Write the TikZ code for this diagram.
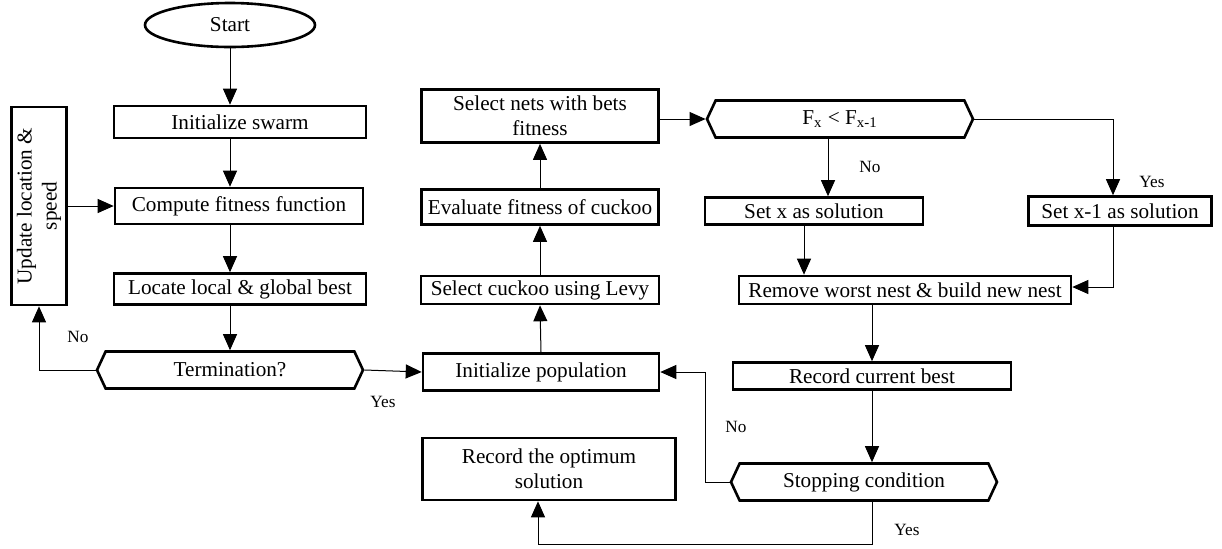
\documentclass[tikz,border=0pt]{standalone}
\usepackage{fontspec}
\setmainfont{Liberation Serif}
\usetikzlibrary{arrows.meta,shapes.geometric,shapes.symbols}

\begin{document}
\begin{tikzpicture}[x=0.5pt,y=-0.5pt,
  every node/.style={font=\fontsize{10.6}{12.5}\selectfont,align=center,inner sep=1pt},
  box/.style={draw,line width=1.3pt,rectangle},
  hexa/.style={draw,line width=1.3pt,shape=signal,signal to=west and east,signal from=nowhere,
               signal pointer angle=130,minimum width=133pt,minimum height=18.5pt},
  arr/.style={-{Triangle[length=8pt,width=7pt]},line width=0.5pt},
  lbl/.style={font=\fontsize{8.6}{10}\selectfont}
]
  \useasboundingbox (0,0) rectangle (1222,548);

  % PSO column
  \node[draw,line width=1.3pt,ellipse,inner sep=0pt,minimum width=85pt,minimum height=22pt]
    (start) at (230,25) {Start};
  \node[box,minimum width=126pt,minimum height=16pt] (swarm) at (240,122) {Initialize swarm};
  \node[box,minimum width=124pt,minimum height=18pt] (compute) at (239,206) {Compute fitness function};
  \node[box,minimum width=126pt,minimum height=15.5pt] (locate) at (240,289) {Locate local \& global best};
  \node[hexa] (term) at (230,370) {Termination?};
  \node[box,minimum width=27.5pt,minimum height=99pt] (update) at (39,206)
    {\rotatebox{90}{\begin{tabular}{@{}c@{}}Update location \&\\speed\end{tabular}}};

  % cuckoo column
  \node[box,minimum width=118pt,minimum height=18.5pt] (pop) at (541,372) {Initialize population};
  \node[box,minimum width=119pt,minimum height=14pt] (levy) at (540,290) {Select cuckoo using Levy};
  \node[box,minimum width=118.5pt,minimum height=17.5pt] (evalf) at (540,207) {Evaluate fitness of cuckoo};
  \node[box,minimum width=118.5pt,minimum height=26.5pt] (nets) at (540,116)
    {Select nets with bets\\fitness};
  \node[box,minimum width=126.5pt,minimum height=31pt] (optimum) at (549,469)
    {Record the optimum\\solution};

  % decision column
  \node[hexa] (fcmp) at (840,119) {F\textsubscript{x} < F\textsubscript{x-1}};
  \node[box,minimum width=109pt,minimum height=13.5pt] (setx) at (814,211) {Set x as solution};
  \node[box,minimum width=91.5pt,minimum height=14.5pt] (setxm) at (1120,211) {Set x-1 as solution};
  \node[box,minimum width=166pt,minimum height=14pt] (remove) at (905,290)
    {Remove worst nest \& build new nest};
  \node[box,minimum width=139pt,minimum height=13.5pt] (current) at (872,376) {Record current best};
  \node[hexa] (stop) at (864,482) {Stopping condition};

  % labels
  \node[lbl] (noterm) at (78,337) {No};
  \node[lbl] (yesterm) at (383,402) {Yes};
  \node[lbl] (nofcmp) at (870,167) {No};
  \node[lbl] (yesfcmp) at (1152,182) {Yes};
  \node[lbl] (nostop) at (736,427) {No};
  \node[lbl] (yesstop) at (907,530) {Yes};

  \draw[arr] (start) -- (start |- swarm.north);
  \draw[arr] (swarm.south -| start) -- (compute.north -| start);
  \draw[arr] (compute.south -| start) -- (locate.north -| start);
  \draw[arr] (locate.south -| start) -- (term.north);
  \draw[arr] (term.west) -| (update.south);
  \draw[arr] (update.east |- compute) -- (compute.west);
  \draw[arr] (term.east) -- (pop.west);

  \draw[arr] (pop.north) -- (levy.south);
  \draw[arr] (levy.north) -- (evalf.south);
  \draw[arr] (evalf.north) -- (nets.south);
  \draw[arr] (nets.east |- fcmp.west) -- (fcmp.west);

  \draw[arr] ([xshift=-6pt]fcmp.south) -- ([xshift=-6pt]fcmp.south |- setx.north);
  \draw[arr] (fcmp.east) -| ([xshift=-3.5pt]setxm.north);
  \draw[arr] ([xshift=-5pt]setx.south) -- ([xshift=-5pt]setx.south |- remove.north);
  \draw[arr] ([xshift=-3.5pt]setxm.south) |- ([yshift=1.5pt]remove.east);
  \draw[arr] (remove.south -| current) -- (current.north);
  \draw[arr] (current.south) -- (current.south |- stop.north);
  \draw[arr] (stop.west) -- ++(-12pt,0) |- (pop.east);
  \draw[arr] (stop.south -| current) -- ++(0,-21.5pt) -| ([xshift=-5.5pt]optimum.south);
\end{tikzpicture}
\end{document}
